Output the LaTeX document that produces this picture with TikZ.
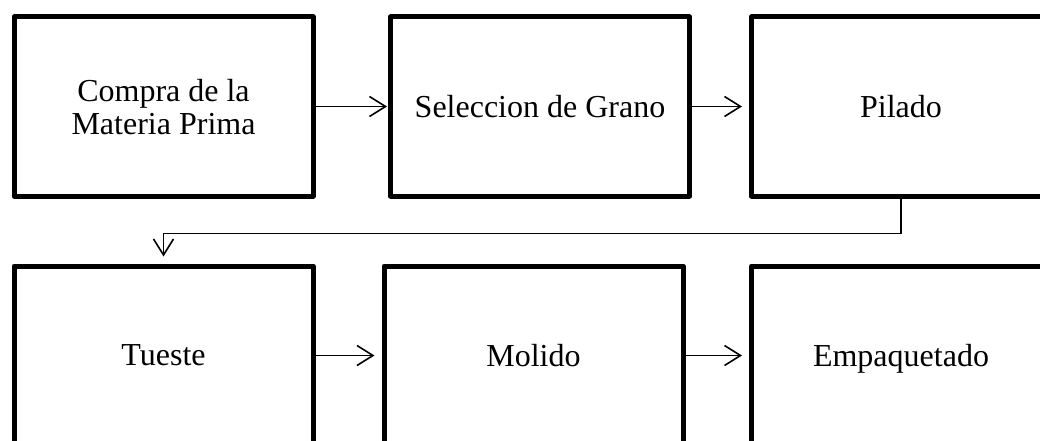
\documentclass[tikz,border=0pt]{standalone}
\usepackage{fontspec}
\setmainfont{Liberation Serif}
\usetikzlibrary{arrows.meta,positioning}

\begin{document}
\begin{tikzpicture}[
  x=1pt, y=-1pt,
  block/.style={rectangle, draw, line width=5pt, line join=round,
    minimum width=299pt, minimum height=179pt, inner sep=0pt,
    text depth=0pt, align=center, font=\fontsize{32}{33}\selectfont},
  arr/.style={-{Straight Barb[length=16pt,width=20pt]}, line width=1.6pt,
    shorten >=7pt}
]
\useasboundingbox (0,0) rectangle (1040,441);
\clip (0,0) rectangle (1040,441);

% Top row
\node[block] (compra) at (163.5,106.5) {Compra de la\\Materia Prima};
\node[block] (selec) at (540,106.5) {Seleccion de Grano};
\node[block] (pilado) at (901,106.5) {Pilado};

% Bottom row
\node[block] (tueste) at (163.5,355.5) {Tueste};
\node[block] (molido) at (533.5,355.5) {Molido};
\node[block] (empaq) at (901,355.5) {Empaquetado};

\draw[arr, shorten >=1pt] (compra) -- (selec);
\draw[arr] (selec) -- (pilado);

% Return line
\draw[arr] (pilado.south) -- ++(0,35) -| (tueste.north);

\draw[arr] (tueste) -- (molido);
\draw[arr] (molido) -- (empaq);

\end{tikzpicture}
\end{document}
